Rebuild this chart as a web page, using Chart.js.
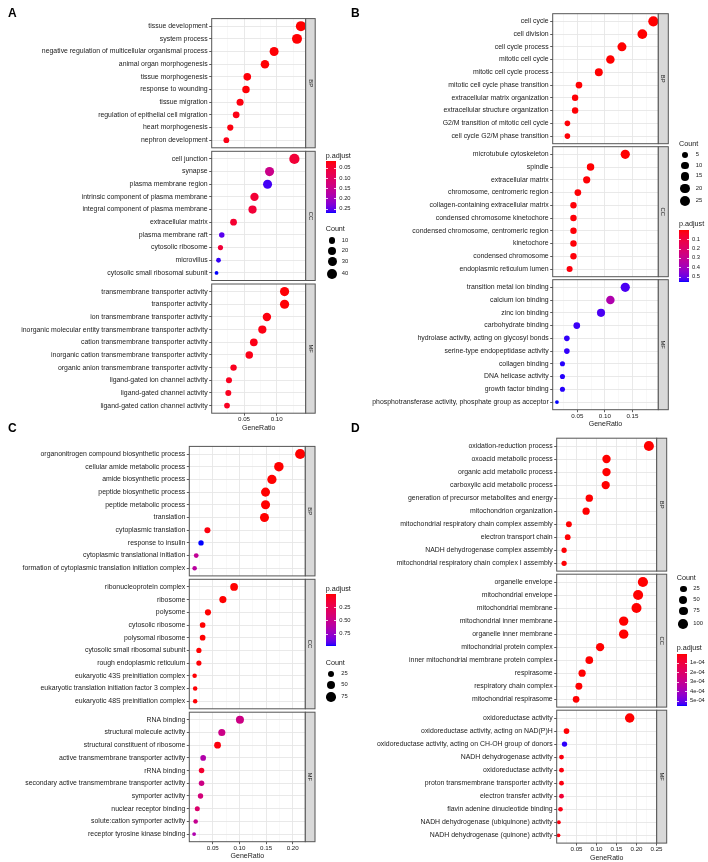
<!DOCTYPE html>
<html><head><meta charset="utf-8">
<script src="https://cdn.jsdelivr.net/npm/chart.js@4.4.0/dist/chart.umd.min.js"></script>
<style>
html,body{margin:0;padding:0;background:#fff;}
#wrap{position:relative;width:708px;height:862px;overflow:hidden;background:#fff;font-family:"Liberation Sans",Arial,sans-serif;}
#wrap canvas{position:absolute;}
.t{position:absolute;white-space:nowrap;color:#1a1a1a;transform:translateY(-50%);line-height:1;}
</style></head><body><div id="wrap"></div>
<script>
// ================= DATA =================
// ---- Panel A ----
const termsA_BP = ["tissue development","system process","negative regulation of multicellular organismal process","animal organ morphogenesis","tissue morphogenesis","response to wounding","tissue migration","regulation of epithelial cell migration","heart morphogenesis","nephron development"];
const ratioA_BP = [0.137,0.131,0.096,0.082,0.055,0.053,0.044,0.038,0.029,0.023];
const countA_BP = [44,42,31,26,18,17,14,12,9,7];
const padjA_BP = [0.014,0.015,0.016,0.015,0.018,0.017,0.020,0.022,0.020,0.024];

const termsA_CC = ["cell junction","synapse","plasma membrane region","intrinsic component of plasma membrane","integral component of plasma membrane","extracellular matrix","plasma membrane raft","cytosolic ribosome","microvillus","cytosolic small ribosomal subunit"];
const ratioA_CC = [0.127,0.089,0.086,0.066,0.063,0.034,0.016,0.014,0.011,0.008];
const countA_CC = [45,32,31,24,23,12,6,5,4,3];
const padjA_CC = [0.052,0.140,0.258,0.050,0.052,0.045,0.250,0.052,0.262,0.268];

const termsA_MF = ["transmembrane transporter activity","transporter activity","ion transmembrane transporter activity","inorganic molecular entity transmembrane transporter activity","cation transmembrane transporter activity","inorganic cation transmembrane transporter activity","organic anion transmembrane transporter activity","ligand-gated ion channel activity","ligand-gated channel activity","ligand-gated cation channel activity"];
const ratioA_MF = [0.112,0.112,0.085,0.078,0.065,0.058,0.034,0.027,0.026,0.024];
const countA_MF = [33,33,25,23,19,17,10,8,8,7];
const padjA_MF = [0.016,0.016,0.020,0.022,0.024,0.025,0.030,0.030,0.030,0.032];

const xTicksA = [0.05,0.10];
const xTickLabelsA = ["0.05","0.10"];
const xMinorA = [0.025,0.075,0.125];
const padjRangeA = [0.014,0.268];
const padjTicksA = [0.05,0.10,0.15,0.20,0.25];
const padjLabelsA = ["0.05","0.10","0.15","0.20","0.25"];
const countBreaksA = [10,20,30,40];

// ---- Panel B ----
const termsB_BP = ["cell cycle","cell division","cell cycle process","mitotic cell cycle","mitotic cell cycle process","mitotic cell cycle phase transition","extracellular matrix organization","extracellular structure organization","G2/M transition of mitotic cell cycle","cell cycle G2/M phase transition"];
const ratioB_BP = [0.188,0.168,0.131,0.110,0.089,0.053,0.046,0.046,0.032,0.032];
const countB_BP = [26,23,18,15,12,7,6,6,4,4];
const padjB_BP = [0.000,0.000,0.000,0.000,0.001,0.003,0.004,0.004,0.006,0.006];

const termsB_CC = ["microtubule cytoskeleton","spindle","extracellular matrix","chromosome, centromeric region","collagen-containing extracellular matrix","condensed chromosome kinetochore","condensed chromosome, centromeric region","kinetochore","condensed chromosome","endoplasmic reticulum lumen"];
const ratioB_CC = [0.137,0.074,0.067,0.051,0.043,0.043,0.043,0.043,0.043,0.036];
const countB_CC = [19,10,9,7,6,6,6,6,6,5];
const padjB_CC = [0.001,0.002,0.004,0.004,0.006,0.006,0.006,0.006,0.008,0.010];

const termsB_MF = ["transition metal ion binding","calcium ion binding","zinc ion binding","carbohydrate binding","hydrolase activity, acting on glycosyl bonds","serine-type endopeptidase activity","collagen binding","DNA helicase activity","growth factor binding","phosphotransferase activity, phosphate group as acceptor"];
const ratioB_MF = [0.137,0.110,0.093,0.049,0.031,0.031,0.023,0.023,0.023,0.013];
const countB_MF = [19,15,13,7,4,4,3,3,3,2];
const padjB_MF = [0.520,0.360,0.520,0.530,0.535,0.535,0.540,0.540,0.540,0.547];

const xTicksB = [0.05,0.10,0.15];
const xTickLabelsB = ["0.05","0.10","0.15"];
const xMinorB = [0.025,0.075,0.125,0.175];
const padjRangeB = [0.0,0.547];
const padjTicksB = [0.1,0.2,0.3,0.4,0.5];
const padjLabelsB = ["0.1","0.2","0.3","0.4","0.5"];
const countBreaksB = [5,10,15,20,25];

// ---- Panel C ----
const termsC_BP = ["organonitrogen compound biosynthetic process","cellular amide metabolic process","amide biosynthetic process","peptide biosynthetic process","peptide metabolic process","translation","cytoplasmic translation","response to insulin","cytoplasmic translational initiation","formation of cytoplasmic translation initiation complex"];
const ratioC_BP = [0.214,0.174,0.161,0.149,0.149,0.147,0.040,0.028,0.019,0.016];
const countC_BP = [88,71,66,61,61,60,16,11,8,7];
const padjC_BP = [0.000,0.000,0.000,0.000,0.000,0.000,0.020,0.975,0.540,0.580];

const termsC_CC = ["ribonucleoprotein complex","ribosome","polysome","cytosolic ribosome","polysomal ribosome","cytosolic small ribosomal subunit","rough endoplasmic reticulum","eukaryotic 43S preinitiation complex","eukaryotic translation initiation factor 3 complex","eukaryotic 48S preinitiation complex"];
const ratioC_CC = [0.090,0.069,0.041,0.031,0.031,0.024,0.024,0.016,0.017,0.017];
const countC_CC = [37,28,17,13,13,10,10,7,7,7];
const padjC_CC = [0.000,0.000,0.000,0.000,0.001,0.002,0.010,0.004,0.006,0.006];

const termsC_MF = ["RNA binding","structural molecule activity","structural constituent of ribosome","active transmembrane transporter activity","rRNA binding","secondary active transmembrane transporter activity","symporter activity","nuclear receptor binding","solute:cation symporter activity","receptor tyrosine kinase binding"];
const ratioC_MF = [0.101,0.067,0.059,0.032,0.029,0.029,0.027,0.021,0.018,0.015];
const countC_MF = [42,28,24,13,12,12,11,9,7,6];
const padjC_MF = [0.470,0.480,0.020,0.630,0.120,0.470,0.420,0.360,0.520,0.640];

const xTicksC = [0.05,0.10,0.15,0.20];
const xTickLabelsC = ["0.05","0.10","0.15","0.20"];
const xMinorC = [0.025,0.075,0.125,0.175];
const padjRangeC = [0.0,0.975];
const padjTicksC = [0.25,0.50,0.75];
const padjLabelsC = ["0.25","0.50","0.75"];
const countBreaksC = [25,50,75];

// ---- Panel D ----
const termsD_BP = ["oxidation-reduction process","oxoacid metabolic process","organic acid metabolic process","carboxylic acid metabolic process","generation of precursor metabolites and energy","mitochondrion organization","mitochondrial respiratory chain complex assembly","electron transport chain","NADH dehydrogenase complex assembly","mitochondrial respiratory chain complex I assembly"];
const ratioD_BP = [0.231,0.125,0.125,0.123,0.082,0.074,0.031,0.028,0.019,0.019];
const countD_BP = [111,60,60,59,39,36,15,14,9,9];
const padjD_BP = [0,0,0,0,0.000001,0.000001,0.000002,0.000003,0.000004,0.000004];

const termsD_CC = ["organelle envelope","mitochondrial envelope","mitochondrial membrane","mitochondrial inner membrane","organelle inner membrane","mitochondrial protein complex","inner mitochondrial membrane protein complex","respirasome","respiratory chain complex","mitochondrial respirasome"];
const ratioD_CC = [0.216,0.204,0.200,0.168,0.168,0.109,0.082,0.064,0.056,0.049];
const countD_CC = [116,110,108,90,90,59,44,35,30,26];
const padjD_CC = [0,0,0,0,0,0,0,0.000001,0.000001,0.000001];

const termsD_MF = ["oxidoreductase activity","oxidoreductase activity, acting on NAD(P)H","oxidoreductase activity, acting on CH-OH group of donors","NADH dehydrogenase activity","oxidoreductase activity","proton transmembrane transporter activity","electron transfer activity","flavin adenine dinucleotide binding","NADH dehydrogenase (ubiquinone) activity","NADH dehydrogenase (quinone) activity"];
const ratioD_MF = [0.183,0.025,0.020,0.0125,0.0125,0.0125,0.0125,0.010,0.006,0.005];
const countD_MF = [92,13,10,6,6,6,6,5,3,3];
const padjD_MF = [0,0.000003,0.00054,0.000012,0.000012,0.000015,0.00008,0.00002,0.000012,0.000012];

const xTicksD = [0.05,0.10,0.15,0.20,0.25];
const xTickLabelsD = ["0.05","0.10","0.15","0.20","0.25"];
const xMinorD = [0.025,0.075,0.125,0.175,0.225];
const padjRangeD = [0.0,0.00055];
const padjTicksD = [0.0001,0.0002,0.0003,0.0004,0.0005];
const padjLabelsD = ["1e-04","2e-04","3e-04","4e-04","5e-04"];
const countBreaksD = [25,50,75,100];

const facetNames = ["BP","CC","MF"];

// ================= LAYOUT / STYLE =================
const FONT = '"Liberation Sans", Arial, sans-serif';
const wrap = document.getElementById('wrap');

const panels = [
  { letter:'A', letterPos:[8,13], plotLeft:211.7, plotRight:305.7, stripW:9.5, top:18.6, H:129.2, gap:3.5, xMin:0.0006, xMax:0.1443,
    xTicks:xTicksA, xTickLabels:xTickLabelsA, xMinor:xMinorA, pRange:padjRangeA, pTicks:padjTicksA, pLabels:padjLabelsA, cBreaks:countBreaksA,
    facets:[[termsA_BP,ratioA_BP,countA_BP,padjA_BP],[termsA_CC,ratioA_CC,countA_CC,padjA_CC],[termsA_MF,ratioA_MF,countA_MF,padjA_MF]],
    leg:{pTitle:[325.7,155.7], bar:[325.7,161,10,51.7], pLabX:339.3, cTitle:[325.7,229.3], cX:332.3, cY:[240.7,251.3,261.7,273.7], cLabX:341.7} },
  { letter:'B', letterPos:[351,13], plotLeft:552.7, plotRight:658.3, stripW:10, top:13.7, H:130, gap:3.0, xMin:0.0053, xMax:0.197,
    xTicks:xTicksB, xTickLabels:xTickLabelsB, xMinor:xMinorB, pRange:padjRangeB, pTicks:padjTicksB, pLabels:padjLabelsB, cBreaks:countBreaksB,
    facets:[[termsB_BP,ratioB_BP,countB_BP,padjB_BP],[termsB_CC,ratioB_CC,countB_CC,padjB_CC],[termsB_MF,ratioB_MF,countB_MF,padjB_MF]],
    leg:{pTitle:[679,224.3], bar:[679,230.3,10,51.4], pLabX:692, cTitle:[679,144.3], cX:685, cY:[155.3,165.7,176.3,188.7,201.3], cLabX:695.7} },
  { letter:'C', letterPos:[8,428], plotLeft:189.3, plotRight:305.3, stripW:9.7, top:446.4, H:129.5, gap:3.4, xMin:0.006, xMax:0.2236,
    xTicks:xTicksC, xTickLabels:xTickLabelsC, xMinor:xMinorC, pRange:padjRangeC, pTicks:padjTicksC, pLabels:padjLabelsC, cBreaks:countBreaksC,
    facets:[[termsC_BP,ratioC_BP,countC_BP,padjC_BP],[termsC_CC,ratioC_CC,countC_CC,padjC_CC],[termsC_MF,ratioC_MF,countC_MF,padjC_MF]],
    leg:{pTitle:[325.7,589], bar:[325.7,594.3,10,51.7], pLabX:339.3, cTitle:[325.7,662.7], cX:331, cY:[674,685,696.7], cLabX:341.3} },
  { letter:'D', letterPos:[351,428], plotLeft:556.7, plotRight:656.7, stripW:10, top:438.2, H:132.9, gap:3.1, xMin:0.0005, xMax:0.2505,
    xTicks:xTicksD, xTickLabels:xTickLabelsD, xMinor:xMinorD, pRange:padjRangeD, pTicks:padjTicksD, pLabels:padjLabelsD, cBreaks:countBreaksD,
    facets:[[termsD_BP,ratioD_BP,countD_BP,padjD_BP],[termsD_CC,ratioD_CC,countD_CC,padjD_CC],[termsD_MF,ratioD_MF,countD_MF,padjD_MF]],
    leg:{pTitle:[676.7,647.7], bar:[676.7,653.7,10,52.3], pLabX:690, cTitle:[676.7,577.7], cX:683.3, cY:[589,600,611,624], cLabX:693.3} }
];

// ---- colour scale: red -> blue interpolated in CIE Lab (like ggplot) ----
function s2l(c){c/=255;return c<=0.04045?c/12.92:Math.pow((c+0.055)/1.055,2.4);}
function l2s(c){c=c<=0.0031308?12.92*c:1.055*Math.pow(c,1/2.4)-0.055;return Math.round(Math.max(0,Math.min(1,c))*255);}
function rgb2lab(rgb){const R=s2l(rgb[0]),G=s2l(rgb[1]),B=s2l(rgb[2]);
  const X=(0.4124*R+0.3576*G+0.1805*B)/0.95047,Y=0.2126*R+0.7152*G+0.0722*B,Z=(0.0193*R+0.1192*G+0.9505*B)/1.08883;
  const f=t=>t>0.008856?Math.cbrt(t):7.787*t+16/116;const fx=f(X),fy=f(Y),fz=f(Z);
  return [116*fy-16,500*(fx-fy),200*(fy-fz)];}
function lab2rgb(lab){const fy=(lab[0]+16)/116,fx=fy+lab[1]/500,fz=fy-lab[2]/200;
  const fi=t=>{const t3=t*t*t;return t3>0.008856?t3:(t-16/116)/7.787;};
  const X=fi(fx)*0.95047,Y=fi(fy),Z=fi(fz)*1.08883;
  return [l2s(3.2406*X-1.5372*Y-0.4986*Z),l2s(-0.9689*X+1.8758*Y+0.0415*Z),l2s(0.0557*X-0.2040*Y+1.0570*Z)];}
const LAB_LO = rgb2lab([255,0,0]), LAB_HI = rgb2lab([0,0,255]);
function colAt(t){t=Math.max(0,Math.min(1,t));const c=lab2rgb([0,1,2].map(k=>LAB_LO[k]+(LAB_HI[k]-LAB_LO[k])*t));return `rgb(${c[0]},${c[1]},${c[2]})`;}
function colorFor(p,range){return colAt((p-range[0])/(range[1]-range[0]));}

// ---- size scale (area) ----
const R_MIN = 1.9, R_MAX = 5.1;
function makeRadius(counts){const lo=Math.min(...counts),hi=Math.max(...counts);
  return c=>R_MIN+Math.sqrt(Math.max(0,Math.min(1,(c-lo)/(hi-lo))))*(R_MAX-R_MIN);}

// ---- facet decoration plugin: panel border + right strip ----
const facetDeco = {
  id:'facetDeco',
  afterDatasetsDraw(chart, args, opts){
    const {ctx, chartArea:a} = chart;
    ctx.save();
    ctx.lineWidth = 1; ctx.strokeStyle = '#555555';
    ctx.strokeRect(a.left, a.top, a.right-a.left, a.bottom-a.top);
    ctx.fillStyle = '#d9d9d9';
    ctx.fillRect(a.right, a.top, opts.stripW, a.bottom-a.top);
    ctx.strokeRect(a.right, a.top, opts.stripW, a.bottom-a.top);
    ctx.translate(a.right+opts.stripW/2, (a.top+a.bottom)/2);
    ctx.rotate(Math.PI/2);
    ctx.fillStyle = '#1a1a1a'; ctx.font = '5.8px '+FONT;
    ctx.textAlign = 'center'; ctx.textBaseline = 'middle';
    ctx.fillText(opts.label, 0, 0.3);
    ctx.restore();
  }
};

const LABEL_W = 200;
function near(arr,v){return arr.some(m=>Math.abs(m-v)<1e-9);}

function buildFacet(P, fi, rad){
  const [terms, ratio, count, padj] = P.facets[fi];
  const isBottom = fi === P.facets.length-1;
  const fTop = P.top + fi*(P.H+P.gap);
  const fBot = fTop + P.H;
  const cLeft = Math.floor(P.plotLeft - LABEL_W);
  const cTop = Math.floor(fTop - 10);
  const xAxisH = isBottom ? 18.8 : 0;
  const cBottom = Math.ceil(fBot + (isBottom ? 20 : 10));
  const cRight = Math.ceil(P.plotRight + P.stripW + 16);
  const W = cRight - cLeft, Hc = cBottom - cTop;
  const cv = document.createElement('canvas');
  cv.width = W; cv.height = Hc;
  cv.style.left = cLeft+'px'; cv.style.top = cTop+'px';
  cv.style.width = W+'px'; cv.style.height = Hc+'px';
  wrap.appendChild(cv);
  const allX = P.xTicks.concat(P.xMinor).sort((a,b)=>a-b);
  new Chart(cv, {
    type:'bubble',
    data:{datasets:[{
      data: ratio.map((v,i)=>({x:v, y:i, r:rad(count[i])})),
      backgroundColor: padj.map(p=>colorFor(p,P.pRange)),
      borderWidth:0, hoverRadius:0, hoverBorderWidth:0
    }]},
    options:{
      responsive:false, animation:false, devicePixelRatio:1, events:[],
      layout:{padding:{left:0, top:fTop-cTop, right:cRight-P.plotRight, bottom:(cBottom-fBot)-xAxisH}},
      plugins:{legend:{display:false}, tooltip:{enabled:false}, facetDeco:{label:facetNames[fi], stripW:P.stripW}},
      scales:{
        x:{type:'linear', position:'bottom', min:P.xMin, max:P.xMax, bounds:'data',
          afterBuildTicks: ax=>{ ax.ticks = allX.map(v=>({value:v})); },
          afterFit: ax=>{ ax.height = xAxisH; },
          border:{display:false},
          grid:{ color: c=>near(P.xTicks,c.tick.value)?'#e6e6e6':'#f0f0f0',
                 lineWidth: c=>near(P.xTicks,c.tick.value)?0.9:0.5,
                 drawTicks:isBottom, tickLength:2.5, tickWidth:0.8,
                 tickColor: c=>near(P.xTicks,c.tick.value)?'#333333':'rgba(0,0,0,0)' },
          ticks:{display:isBottom, autoSkip:false, maxRotation:0, minRotation:0, padding:0,
                 font:{family:FONT, size:6.2}, color:'#1a1a1a',
                 callback:(v)=>{const k=P.xTicks.findIndex(m=>Math.abs(m-v)<1e-9);return k>=0?P.xTickLabels[k]:'';}},
          title:{display:isBottom, text:'GeneRatio', color:'#1a1a1a', font:{family:FONT, size:7}, padding:{top:0,bottom:0}}
        },
        y:{type:'linear', position:'left', min:-0.6, max:terms.length-0.4, reverse:true, bounds:'data',
          afterBuildTicks: ax=>{ ax.ticks = terms.map((t,i)=>({value:i})); },
          afterFit: ax=>{ ax.width = P.plotLeft - cLeft; },
          border:{display:false},
          grid:{color:'#e6e6e6', lineWidth:0.9, drawTicks:true, tickLength:2.5, tickWidth:0.8, tickColor:'#333333'},
          ticks:{autoSkip:false, padding:1.5, font:{family:FONT, size:6.9}, color:'#1a1a1a',
                 callback:(v,i)=>terms[i]}
        }
      }
    },
    plugins:[facetDeco]
  });
}

function addText(txt,x,y,size,bold){
  const d=document.createElement('div');d.className='t';d.textContent=txt;
  d.style.left=x+'px';d.style.top=y+'px';d.style.fontSize=size+'px';
  if(bold){d.style.fontWeight='bold';d.style.color='#000';}
  wrap.appendChild(d);return d;
}

function buildLegend(P, rad){
  const L = P.leg;
  // p.adjust colourbar
  addText('p.adjust', L.pTitle[0], L.pTitle[1], 7.2);
  const [bx,by,bw,bh] = L.bar;
  const stops=[];for(let k=0;k<=40;k++){stops.push(colAt(k/40)+' '+(k*2.5)+'%');}
  const bar=document.createElement('div');
  bar.style.cssText=`position:absolute;left:${bx}px;top:${by}px;width:${bw}px;height:${bh}px;background:linear-gradient(to bottom,${stops.join(',')});`;
  wrap.appendChild(bar);
  P.pTicks.forEach((v,k)=>{
    const y = by + (v-P.pRange[0])/(P.pRange[1]-P.pRange[0])*bh;
    [bx, bx+bw-2].forEach(tx=>{const tk=document.createElement('div');
      tk.style.cssText=`position:absolute;left:${tx}px;top:${y-0.4}px;width:2px;height:0.8px;background:rgba(255,255,255,0.8);`;wrap.appendChild(tk);});
    addText(P.pLabels[k], L.pLabX, y, 5.8);
  });
  // Count legend
  addText('Count', L.cTitle[0], L.cTitle[1], 7.2);
  P.cBreaks.forEach((c,k)=>{
    const r = rad(c), cy = L.cY[k];
    const dot=document.createElement('div');
    dot.style.cssText=`position:absolute;left:${L.cX-r}px;top:${cy-r}px;width:${2*r}px;height:${2*r}px;border-radius:50%;background:#000;`;
    wrap.appendChild(dot);
    addText(String(c), L.cLabX, cy, 5.8);
  });
}

panels.forEach(P=>{
  const allCounts = [].concat(...P.facets.map(f=>f[2]));
  const rad = makeRadius(allCounts);
  P.facets.forEach((f,fi)=>buildFacet(P,fi,rad));
  buildLegend(P, rad);
  addText(P.letter, P.letterPos[0], P.letterPos[1], 12, true);
});
</script>
</body></html>
